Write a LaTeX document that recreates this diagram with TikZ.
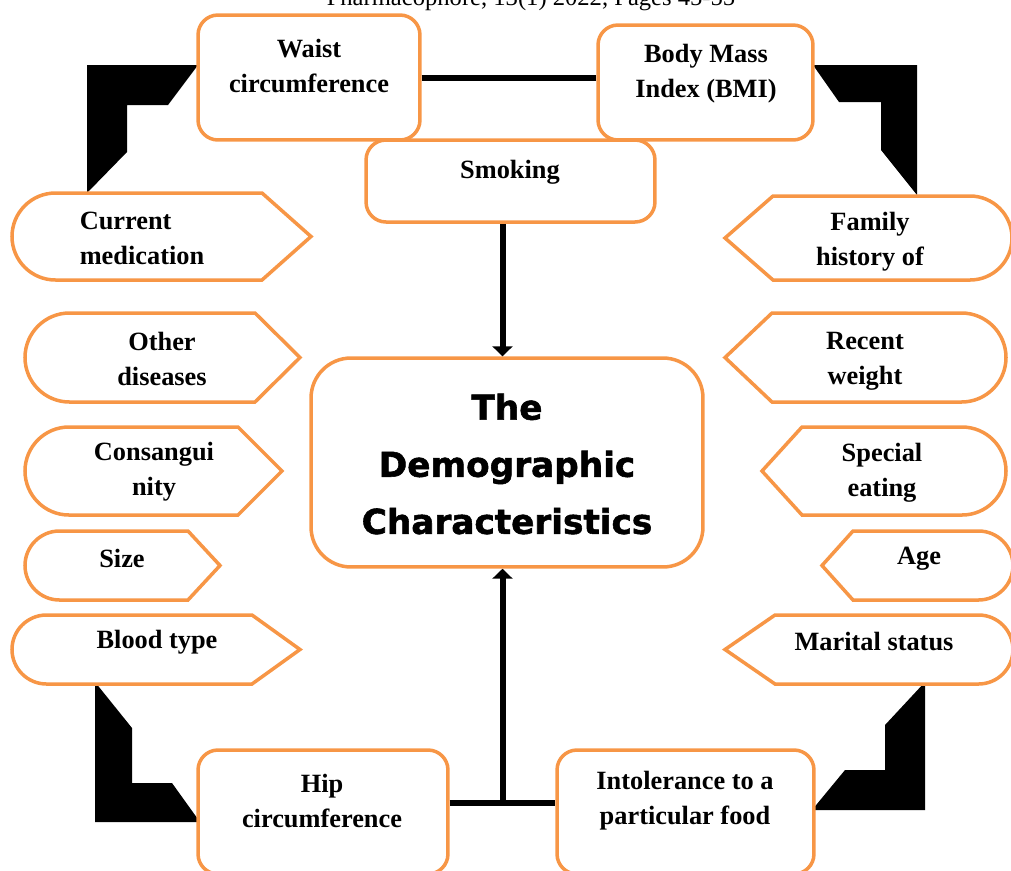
\documentclass[tikz,border=0pt]{standalone}
\usepackage{fontspec}
\setmainfont{Liberation Serif}
\newfontfamily\demofont{DejaVu Sans}[BoldFont={DejaVu Sans Bold}, BoldFeatures={FakeBold=1.6}]
\usetikzlibrary{arrows.meta, math, calc}
\definecolor{tagorange}{HTML}{F79646}
\tikzset{
    >={Triangle[length=0.2cm, width=0.4cm]},
    box/.style={draw=tagorange, line width=0.07cm, fill=white, rounded corners=0.4cm},
    tagline/.style={draw=tagorange, line width=0.07cm, fill=white},
    txt/.style={font=\bfseries\fontsize{15}{20}\selectfont, inner sep=0},
    link/.style={line width=0.12cm},
    bracket/.style={fill=black},
}

\begin{document}
\begin{tikzpicture}[x=0.02cm, y=-0.02cm]
    \useasboundingbox (0,0) rectangle (1011,870);
    \node[font=\fontsize{14}{16}\selectfont, anchor=base] (header) at (531,5) {Pharmacophore, 13(1) 2022, Pages 45-55};
    \fill[bracket] (87,65) -- (198,65) -- (168,105) -- (127,105) -- (127,152) -- (87,193) -- cycle;
    \fill[bracket] (813,65) -- (917,65) -- (917,195) -- (881,150) -- (881,102) -- (839,102) -- cycle;
    \fill[bracket] (95,682) -- (132,728) -- (132,783) -- (172,783) -- (200,822) -- (95,822) -- cycle;
    \fill[bracket] (925,682) -- (925,810) -- (812,810) -- (845,770) -- (885,770) -- (885,725) -- cycle;
    \node[box, minimum width=4.44cm, minimum height=2.5cm] (waist) at (309,77.5) {};
    \node[box, minimum width=4.3cm, minimum height=2.3cm] (bmi) at (705.5,82.5) {};
    \node[box, minimum width=5.78cm, minimum height=1.64cm] (smoking) at (510.5,181) {};
    \node[box, rounded corners=0.8cm, minimum width=7.84cm, minimum height=4.18cm] (demo) at (507,462.5) {};
    \node[box, minimum width=5cm, minimum height=2.48cm] (hip) at (323,812) {};
    \node[box, minimum width=5.14cm, minimum height=2.48cm] (food) at (685.5,812) {};
    \foreach \x/\y/\X/\Y/\p [evaluate={\r=(\Y-\y)/2; \m=(\y+\Y)/2;}] in
        {12/193/311/280/262, 25/313/300/402/255, 25/427/282/515/238, 25/531/220/600/188, 12/615/300/684/252}
        \draw[tagline] (\x+\r,\y) -- (\p,\y) -- (\X,\m) -- (\p,\Y) -- (\x+\r,\Y)
            arc[start angle=90, end angle=270, radius=\r] -- cycle;
    \foreach \x/\y/\X/\Y/\p [evaluate={\r=(\Y-\y)/2; \m=(\y+\Y)/2;}] in
        {725/196/1012/280/773, 725/313/1006/402/772, 762/427/1006/515/802, 822/531/1013/600/853, 725/615/1013/684/775}
        \draw[tagline] (\p,\y) -- (\X-\r,\y) arc[start angle=-90, end angle=90, radius=\r]
            -- (\p,\Y) -- (\x,\m) -- cycle;
    \node[txt, align=center] (waist-t) at (309,66) {Waist\\circumference};
    \node[txt, align=center] (bmi-t) at (706,74) {Body Mass\\Index (BMI)};
    \node[txt, align=center] (smoking-t) at (510,172) {Smoking};
    \node[txt, align=center] (hip-t) at (322,801) {Hip\\circumference};
    \node[txt, align=center] (food-t) at (685,801) {Intolerance to a\\particular food};
    \node[font=\demofont\bfseries\fontsize{19.5}{32.5}\selectfont, align=center] (demo-t) at (507,464) {The\\Demographic\\Characteristics};
    \foreach \n/\x/\y/\a/\t in {med/142/238/left/{Current\\medication}, dis/162/359/center/{Other\\diseases},
        con/154/472/center/{Consangui\\nity}, size/122/558/center/Size, blood/157/642/center/Blood type,
        fam/870/242/center/{Family\\history of}, wt/865/361/center/{Recent\\weight}, eat/882/473/center/{Special\\eating},
        age/919/559/center/Age, mar/874/642/center/Marital status}
        \node[txt, align=\a] (\n) at (\x,\y) {\t};
    \coordinate (junction) at ($(hip.east)!0.5!(food.west) + (0,-9)$);
    \draw[link] (waist.east) -- (waist.east -| bmi.west);
    \draw[link, ->] (smoking.south -| junction) -- (junction |- demo.north);
    \draw[link] ($(hip.east) + (0,-9)$) -- ($(food.west) + (0,-9)$);
    \draw[link, ->] (junction) -- (junction |- demo.south);
\end{tikzpicture}
\end{document}
